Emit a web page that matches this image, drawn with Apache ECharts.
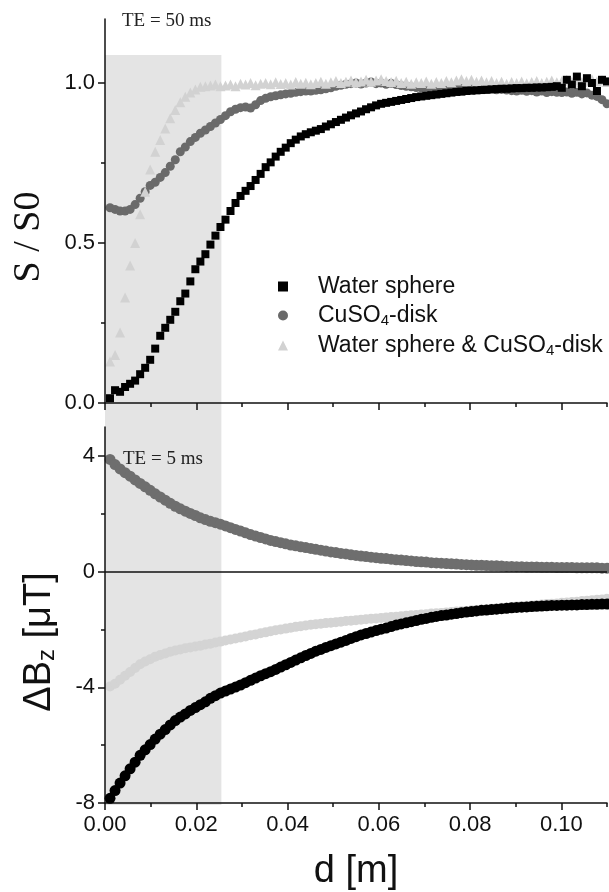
<!DOCTYPE html>
<html>
<head>
<meta charset="utf-8">
<title>S/S0 and ΔBz versus distance</title>
<script src="https://cdn.jsdelivr.net/npm/echarts@6/dist/echarts.min.js"></script>
<style>
  html, body { margin: 0; padding: 0; background: #fff; }
  #chart { width: 609px; height: 892px; }
</style>
</head>
<body>
<div id="chart"></div>
<script>
// sample spacing along d (m); sample k sits at (k + 1) * dStep
const dStep = 0.0011;

const legendNames = ["Water sphere", "CuSO4-disk", "Water sphere & CuSO4-disk"];

// upper panel, S / S0 at TE = 50 ms
const sWater = [
  0.015, 0.04, 0.035, 0.05, 0.06, 0.07, 0.09, 0.11, 0.135, 0.17,
  0.21, 0.235, 0.26, 0.285, 0.318, 0.342, 0.38, 0.418, 0.442, 0.465,
  0.495, 0.523, 0.55, 0.573, 0.6, 0.625, 0.647, 0.663, 0.678, 0.697,
  0.716, 0.737, 0.752, 0.77, 0.785, 0.798, 0.812, 0.823, 0.833, 0.84,
  0.846, 0.851, 0.856, 0.864, 0.871, 0.878, 0.885, 0.892, 0.899, 0.905,
  0.911, 0.918, 0.924, 0.93, 0.935, 0.938, 0.941, 0.944, 0.947, 0.95,
  0.953, 0.956, 0.958, 0.96, 0.962, 0.964, 0.966, 0.968, 0.97, 0.972,
  0.973, 0.975, 0.976, 0.977, 0.978, 0.979, 0.98, 0.981, 0.982, 0.982,
  0.983, 0.984, 0.984, 0.985, 0.985, 0.986, 0.986, 0.987, 0.988, 0.99,
  0.985, 1.01, 0.995, 1.02, 0.99, 1.015, 1.0, 0.975, 1.01, 1.005
];
const sDisk = [
  0.61, 0.605, 0.6, 0.6, 0.605, 0.62, 0.64, 0.66, 0.68, 0.69,
  0.705, 0.72, 0.74, 0.76, 0.785, 0.8, 0.817, 0.83, 0.843, 0.853,
  0.864, 0.875, 0.886, 0.898, 0.91, 0.918, 0.923, 0.925, 0.922, 0.932,
  0.945, 0.952, 0.957, 0.96, 0.963, 0.966, 0.968, 0.971, 0.973, 0.975,
  0.975, 0.977, 0.979, 0.982, 0.985, 0.99, 0.993, 0.996, 0.998, 1.0,
  0.997, 1.0, 1.003, 0.998, 1.0, 0.996, 0.999, 0.995, 0.992, 0.99,
  0.988, 0.986, 0.985, 0.984, 0.985, 0.983, 0.984, 0.982, 0.984, 0.983,
  0.985, 0.984, 0.982, 0.983, 0.981, 0.98, 0.982, 0.979, 0.98, 0.978,
  0.976, 0.975, 0.977, 0.974, 0.976, 0.972, 0.975, 0.97, 0.973, 0.971,
  0.97, 0.972, 0.968, 0.971, 0.966, 0.969, 0.962, 0.958, 0.948, 0.935
];
const sBoth = [
  0.13, 0.15, 0.22, 0.33, 0.43, 0.5, 0.59, 0.66, 0.73, 0.785,
  0.822, 0.858, 0.89, 0.916, 0.94, 0.957, 0.97, 0.98, 0.988, 0.99,
  0.992, 0.995, 0.99, 0.992, 0.995, 0.99, 0.998, 0.995, 1.0, 0.993,
  0.998, 1.0, 0.996, 1.002, 0.997, 1.0, 0.995, 1.003, 0.998, 1.001,
  0.996, 1.0, 1.004, 0.998, 1.002, 1.006, 1.0, 1.004, 1.008, 1.002,
  1.005, 1.01, 1.004, 1.008, 1.012, 1.006, 1.003, 1.007, 1.0, 1.004,
  0.998, 1.002, 1.0, 1.005, 0.998, 1.003, 1.0, 1.006, 1.002, 1.008,
  1.012, 1.006, 1.01, 1.004, 1.008, 1.002, 1.006, 1.0, 1.004, 0.998,
  1.003, 1.0, 1.005, 0.999, 1.003, 1.006, 1.0, 1.004, 1.008, 1.002,
  1.006, 1.01, 1.004, 1.008, 1.003, 1.007, 1.012, 1.005, 1.009, 1.003
];

// lower panel, ΔBz (µT) at TE = 5 ms
const bWater = [
  -7.84, -7.57, -7.31, -7.06, -6.82, -6.59, -6.35, -6.16, -5.98, -5.79,
  -5.62, -5.46, -5.3, -5.15, -5.03, -4.92, -4.8, -4.7, -4.6, -4.5,
  -4.38, -4.29, -4.2, -4.13, -4.06, -3.99, -3.92, -3.84, -3.76, -3.68,
  -3.6, -3.53, -3.46, -3.38, -3.3, -3.22, -3.14, -3.06, -2.98, -2.9,
  -2.83, -2.75, -2.69, -2.62, -2.56, -2.5, -2.44, -2.38, -2.31, -2.25,
  -2.19, -2.14, -2.09, -2.04, -1.99, -1.95, -1.9, -1.85, -1.81, -1.77,
  -1.73, -1.69, -1.65, -1.62, -1.58, -1.55, -1.52, -1.5, -1.47, -1.45,
  -1.42, -1.4, -1.38, -1.36, -1.34, -1.33, -1.31, -1.3, -1.28, -1.27,
  -1.25, -1.24, -1.23, -1.22, -1.21, -1.2, -1.19, -1.18, -1.17, -1.17,
  -1.16, -1.16, -1.15, -1.15, -1.14, -1.14, -1.13, -1.13, -1.12, -1.12
];
const bDisk = [
  3.88, 3.7, 3.55, 3.42, 3.3, 3.17, 3.05, 2.93, 2.81, 2.69,
  2.58, 2.47, 2.36, 2.26, 2.17, 2.09, 2.01, 1.94, 1.86, 1.8,
  1.74, 1.69, 1.64, 1.58, 1.52, 1.46, 1.4, 1.34, 1.28, 1.23,
  1.18, 1.13, 1.08, 1.04, 1.0, 0.96, 0.92, 0.89, 0.86, 0.83,
  0.8, 0.77, 0.74, 0.71, 0.68, 0.66, 0.63, 0.61, 0.58, 0.56,
  0.54, 0.52, 0.5, 0.48, 0.46, 0.45, 0.43, 0.41, 0.4, 0.38,
  0.37, 0.35, 0.34, 0.33, 0.31, 0.3, 0.29, 0.28, 0.27, 0.26,
  0.25, 0.24, 0.23, 0.22, 0.22, 0.21, 0.2, 0.2, 0.19, 0.18,
  0.18, 0.17, 0.17, 0.16, 0.16, 0.16, 0.15, 0.15, 0.15, 0.14,
  0.14, 0.14, 0.14, 0.13, 0.13, 0.13, 0.13, 0.13, 0.12, 0.12
];
const bBoth = [
  -3.97, -3.88, -3.74, -3.6, -3.47, -3.33, -3.2, -3.11, -3.03, -2.94,
  -2.88, -2.83, -2.77, -2.73, -2.69, -2.65, -2.62, -2.59, -2.56, -2.52,
  -2.49, -2.45, -2.42, -2.38, -2.35, -2.31, -2.28, -2.24, -2.2, -2.17,
  -2.13, -2.1, -2.06, -2.03, -2.0, -1.97, -1.94, -1.91, -1.89, -1.86,
  -1.84, -1.82, -1.8, -1.78, -1.77, -1.75, -1.73, -1.71, -1.7, -1.68,
  -1.66, -1.65, -1.63, -1.62, -1.6, -1.59, -1.57, -1.56, -1.54, -1.53,
  -1.51, -1.5, -1.48, -1.47, -1.45, -1.44, -1.43, -1.41, -1.4, -1.38,
  -1.37, -1.36, -1.34, -1.33, -1.31, -1.3, -1.28, -1.27, -1.25, -1.24,
  -1.22, -1.21, -1.19, -1.18, -1.17, -1.15, -1.14, -1.12, -1.11, -1.1,
  -1.08, -1.07, -1.05, -1.04, -1.02, -1.01, -0.99, -0.97, -0.96, -0.94
];

// ticks
const xMajorTicks = [0, 0.02, 0.04, 0.06, 0.08, 0.10];
const xMinorTicks = [0.01, 0.03, 0.05, 0.07, 0.09, 0.11];
const sMajorTicks = [0, 0.5, 1.0];
const sMinorTicks = [0.25, 0.75];
const bMajorTicks = [-8, -4, 0, 4];
const bMinorTicks = [-6, -2, 2];

// shaded d range (m)
const shadeRange = [0, 0.0255];

const sansFont = '"Liberation Sans", Arial, sans-serif';
const serifFont = '"Liberation Serif", "Times New Roman", serif';
const ink = "#111";

const chart = echarts.init(document.getElementById("chart"));

function toPoints(values) {
    return values.map((v, k) => [+((k + 1) * dStep).toFixed(5), v]);
}

function axisPair(gridIndex, range, major, minor, labelOpts, extra) {
    const main = Object.assign({
        type: "value",
        gridIndex: gridIndex,
        min: range[0],
        max: range[1],
        z: 4,
        axisLine: { show: true, onZero: false, lineStyle: { color: ink, width: 1.5 } },
        axisTick: { show: true, customValues: major, length: 7, lineStyle: { color: ink, width: 1.5 } },
        axisLabel: Object.assign({
            customValues: major,
            fontSize: 22,
            fontFamily: sansFont,
            color: ink
        }, labelOpts),
        splitLine: { show: false }
    }, extra);
    const minorAxis = {
        type: "value",
        gridIndex: gridIndex,
        min: range[0],
        max: range[1],
        z: 4,
        position: main.position,
        axisLine: { show: false, onZero: false },
        axisTick: { show: true, customValues: minor, length: 4, lineStyle: { color: ink, width: 1.5 } },
        axisLabel: { show: false },
        splitLine: { show: false }
    };
    return [main, minorAxis];
}

function scatter(name, values, axisIndex, symbol, size, color, z) {
    return {
        name: name,
        type: "scatter",
        xAxisIndex: axisIndex,
        yAxisIndex: axisIndex,
        data: toPoints(values),
        symbol: symbol,
        symbolSize: size,
        itemStyle: { color: color, opacity: 1 },
        z: z,
        silent: true
    };
}

const xAxes = [].concat(
    axisPair(0, [0, 0.11], xMajorTicks, xMinorTicks, { show: false }, { position: "bottom" }),
    axisPair(1, [0, 0.11], xMajorTicks, xMinorTicks,
        { show: true, margin: 11, formatter: (v) => v.toFixed(2) },
        {
            position: "bottom",
            name: "d [m]",
            nameLocation: "middle",
            nameGap: 50,
            nameTextStyle: { fontSize: 38, fontFamily: sansFont, color: ink }
        }),
    [{ type: "value", gridIndex: 2, min: 0, max: 0.11, show: false }]
);

const yAxes = [].concat(
    axisPair(0, [0, 1.2], sMajorTicks, sMinorTicks,
        { margin: 10, formatter: (v) => v.toFixed(1) },
        {
            position: "left",
            name: "S / S0",
            nameLocation: "middle",
            nameRotate: 90,
            nameGap: 57,
            nameTextStyle: { fontSize: 38, fontFamily: serifFont, color: ink, padding: [0, 52, 0, 0] }
        }),
    axisPair(1, [-8, 5], bMajorTicks, bMinorTicks,
        { margin: 10 },
        {
            position: "left",
            name: "ΔB{sub|z} [μT]",
            nameLocation: "middle",
            nameRotate: 90,
            nameGap: 46,
            nameTextStyle: {
                fontSize: 38, fontFamily: sansFont, color: ink, padding: [0, 54, 0, 0],
                rich: { sub: { fontSize: 24, fontFamily: sansFont, color: ink, verticalAlign: "bottom", padding: [14, 0, 0, 0] } }
            }
        }),
    [{ type: "value", gridIndex: 2, min: 0, max: 1, show: false }]
);

const option = {
    backgroundColor: "#fff",
    animation: false,
    grid: [
        { left: 105, right: 2, top: 19, height: 384 },
        { left: 105, right: 2, top: 427, height: 378 },
        { left: 105, right: 2, top: 55, height: 750 }
    ],
    xAxis: xAxes,
    yAxis: yAxes,
    legend: {
        data: legendNames,
        orient: "vertical",
        left: 273,
        top: 270,
        itemWidth: 10,
        itemHeight: 10,
        itemGap: 6,
        selectedMode: false,
        formatter: (name) => name.replace("CuSO4", "CuSO{sub|4}"),
        textStyle: {
            fontSize: 23,
            fontFamily: sansFont,
            color: ink,
            padding: [0, 0, 0, 25],
            rich: { sub: { fontSize: 15, fontFamily: sansFont, color: ink, verticalAlign: "bottom", padding: [10, 0, 0, 0] } }
        }
    },
    graphic: [
        { type: "text", left: 122, top: 12, z: 10, style: { text: "TE = 50 ms", font: '19px "Liberation Serif", serif', fill: "#222" } },
        { type: "text", left: 123, top: 450, z: 10, style: { text: "TE = 5 ms", font: '19px "Liberation Serif", serif', fill: "#222" } }
    ],
    series: [
        {
            name: "shade",
            type: "line",
            xAxisIndex: 4,
            yAxisIndex: 4,
            data: [],
            z: 0,
            silent: true,
            markArea: {
                silent: true,
                itemStyle: { color: "#e4e4e4" },
                data: [[{ xAxis: shadeRange[0], yAxis: 0 }, { xAxis: shadeRange[1], yAxis: 1 }]]
            }
        },
        scatter(legendNames[1], sDisk, 0, "circle", 9, "#6a6a6a", 2),
        scatter(legendNames[2], sBoth, 0, "triangle", 10, "#d2d2d2", 3),
        scatter(legendNames[0], sWater, 0, "rect", 8, "#000", 4),
        Object.assign(scatter("CuSO4-disk, TE 5 ms", bDisk, 2, "circle", 11, "#6e6e6e", 2), {
            markLine: {
                silent: true,
                symbol: ["none", "none"],
                label: { show: false },
                lineStyle: { color: ink, width: 1.5, type: "solid" },
                data: [{ yAxis: 0 }]
            }
        }),
        scatter("Water sphere & CuSO4-disk, TE 5 ms", bBoth, 2, "circle", 10, "#d4d4d4", 3),
        scatter("Water sphere, TE 5 ms", bWater, 2, "circle", 11, "#000", 4)
    ]
};

chart.setOption(option);
</script>
</body>
</html>
